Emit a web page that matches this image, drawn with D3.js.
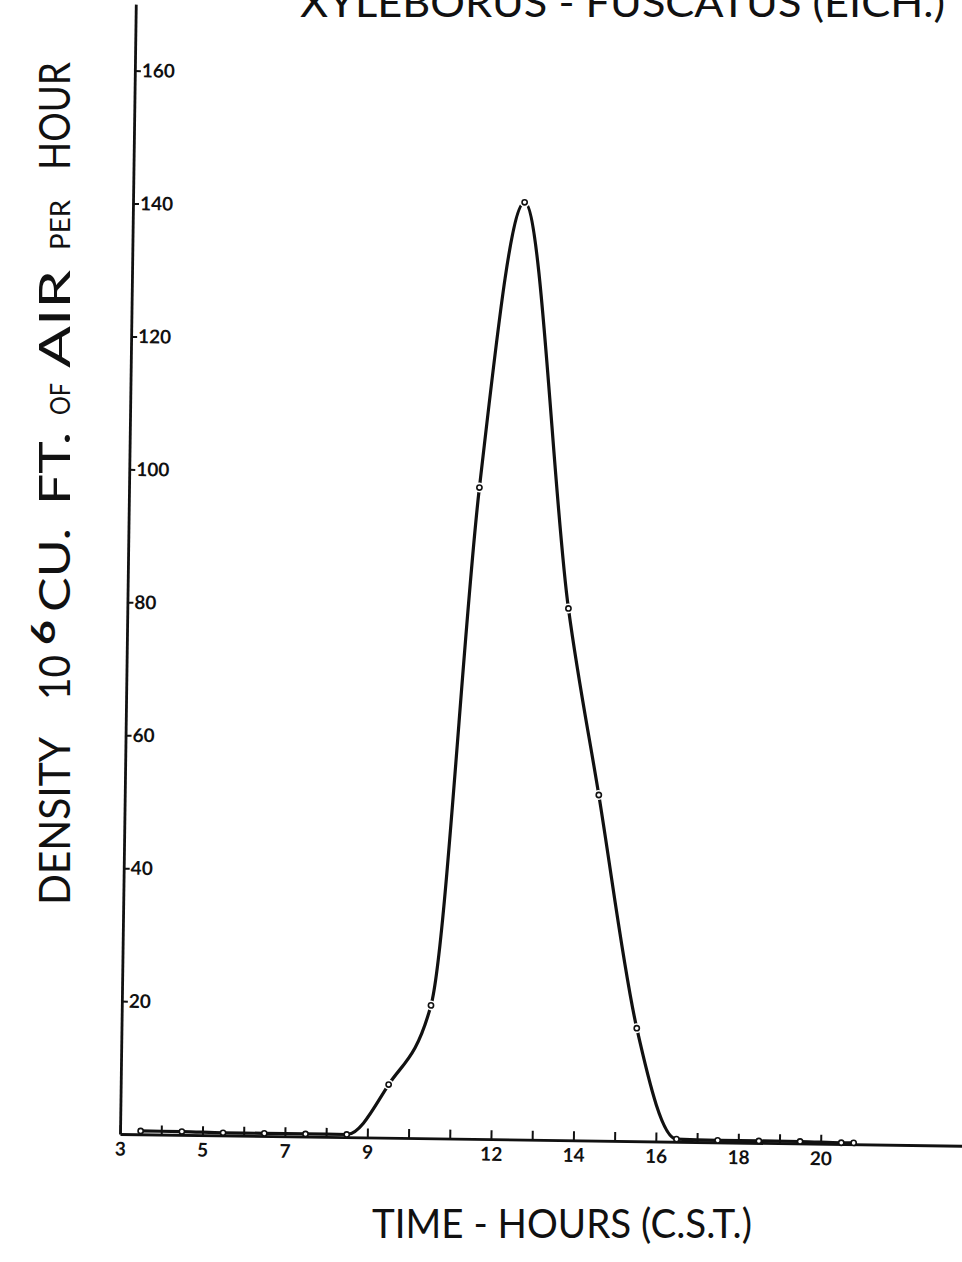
<!DOCTYPE html>
<html>
<head>
<meta charset="utf-8">
<script src="https://cdnjs.cloudflare.com/ajax/libs/d3/7.8.5/d3.min.js"></script>
<style>
  html, body { margin: 0; padding: 0; background: #fff; }
  svg { display: block; }
  text { font-family: "Lato", "DejaVu Sans", sans-serif; fill: #111; }
</style>
</head>
<body>
<svg id="chart" width="962" height="1262"></svg>
<script>
// ------------------------------
// DONNEES
// ------------------------------
const hours   = [3.5, 4.5, 5.5, 6.5, 7.5, 8.5, 9.5, 10.5, 11.5, 12.5, 13.7, 14.5, 15.5, 16.5, 17.5, 18.5, 19.5, 20.5, 20.8];
const density = [0.5, 0.5, 0.4, 0.4, 0.4, 0.4, 8, 20, 98, 141, 80, 52, 17, 0.4, 0.3, 0.3, 0.3, 0.2, 0.2];

const xTicks      = [3, 4, 5, 6, 7, 8, 9, 10, 11, 12, 13, 14, 15, 16, 17, 18, 19, 20];
const xTickLabels = [3, 5, 7, 9, 12, 14, 16, 18, 20];
const yTicks      = [20, 40, 60, 80, 100, 120, 140, 160];

const titleText = "XYLEBORUS - FUSCATUS (EICH.)";
const xLabel    = "TIME - HOURS (C.S.T.)";

// y label, word by word: text, bottom y, top y, font size, raise
const yLabelParts = [
  ["DENSITY", 905, 737, 42, 0],
  ["10",      700, 655, 42, 0],
  ["6",       645, 620, 32, 15],
  ["CU.",     612, 528, 42, 0],
  ["FT.",     505, 432, 42, 0],
  ["OF",      415, 383, 26, 0],
  ["AIR",     368, 270, 42, 0],
  ["PER",     250, 200, 26, 0],
  ["HOUR",    170, 62,  42, 0]
];

// ------------------------------
// SCALES (le scan est un peu penché)
// ------------------------------
const svg = d3.select("#chart");
const ox = 120, oy = 1134;
const x = d3.scaleLinear().domain([3, 23.5]).range([0, 845]);
const y = d3.scaleLinear().domain([0, 170]).range([0, -1130]);

const g = svg.append("g").attr("transform", `translate(${ox},${oy}) rotate(0.8)`);

// ------------------------------
// AXES
// ------------------------------
const xAxis = g.append("g")
  .call(d3.axisBottom(x)
    .tickValues(xTicks)
    .tickSize(-9)
    .tickSizeOuter(0)
    .tickPadding(8)
    .tickFormat(d => xTickLabels.includes(d) ? d : ""));

const yAxis = g.append("g")
  .call(d3.axisRight(y)
    .tickValues(yTicks)
    .tickSize(6)
    .tickSizeOuter(0)
    .tickPadding(1));

[xAxis, yAxis].forEach(a => {
  a.select(".domain").attr("stroke", "#111").attr("stroke-width", 2.8);
  a.selectAll(".tick line").attr("stroke", "#111").attr("stroke-width", 2);
  a.selectAll(".tick text")
    .attr("fill", "#111")
    .style("font-family", "Lato, 'DejaVu Sans', sans-serif")
    .style("font-weight", "bold")
    .style("font-size", "19px");
});

// ------------------------------
// COURBE + POINTS
// ------------------------------
const pts = hours.map((h, i) => [h, density[i]]);

g.append("path")
  .datum(pts)
  .attr("fill", "none")
  .attr("stroke", "#111")
  .attr("stroke-width", 3.2)
  .attr("stroke-linecap", "round")
  .attr("d", d3.line().x(d => x(d[0])).y(d => y(d[1])).curve(d3.curveMonotoneX));

g.selectAll("circle.halo")
  .data(pts.filter(d => d[1] > 2)).enter()
  .append("circle")
  .attr("class", "halo")
  .attr("cx", d => x(d[0]))
  .attr("cy", d => y(d[1]))
  .attr("r", 5)
  .attr("fill", "#fff");

g.selectAll("circle.pt")
  .data(pts).enter()
  .append("circle")
  .attr("class", "pt")
  .attr("cx", d => x(d[0]))
  .attr("cy", d => y(d[1]))
  .attr("r", 2.6)
  .attr("fill", "#fff")
  .attr("stroke", "#111")
  .attr("stroke-width", 1.6);

// ------------------------------
// TEXTES
// ------------------------------
svg.append("text")
  .attr("x", 300).attr("y", 17)
  .attr("textLength", 645).attr("lengthAdjust", "spacingAndGlyphs")
  .style("font-size", "40px")
  .text(titleText);

svg.append("text")
  .attr("x", 372).attr("y", 1238)
  .attr("textLength", 380).attr("lengthAdjust", "spacingAndGlyphs")
  .style("font-size", "40px")
  .text(xLabel);

const yl = svg.append("g").attr("transform", "translate(70,0) rotate(-90)");
yl.selectAll("text")
  .data(yLabelParts).enter()
  .append("text")
  .attr("x", d => -d[1])
  .attr("y", d => -d[4])
  .attr("textLength", d => d[1] - d[2])
  .attr("lengthAdjust", "spacingAndGlyphs")
  .style("font-size", d => d[3] + "px")
  .style("font-weight", d => d[4] ? "bold" : "normal")
  .text(d => d[0]);
</script>
</body>
</html>
